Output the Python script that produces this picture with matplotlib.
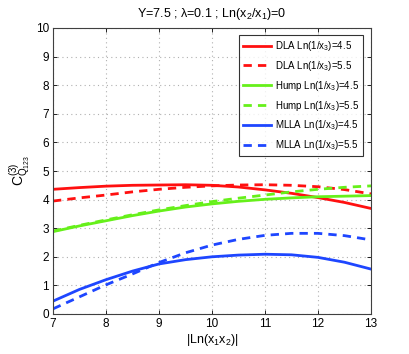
import numpy as np
import matplotlib
matplotlib.use("Agg")
import matplotlib.pyplot as plt

# ------------------------------------------------------
# DADOS
# ------------------------------------------------------
x_ln = [7.0, 7.5, 8.0, 8.5, 9.0, 9.5, 10.0, 10.5, 11.0, 11.5, 12.0, 12.5, 13.0]

dla_45 = [4.36, 4.42, 4.47, 4.50, 4.51, 4.52, 4.50, 4.44, 4.34, 4.22, 4.07, 3.90, 3.69]
dla_55 = [3.95, 4.06, 4.16, 4.27, 4.36, 4.43, 4.48, 4.51, 4.52, 4.50, 4.45, 4.35, 4.20]
hump_45 = [2.88, 3.08, 3.26, 3.44, 3.60, 3.74, 3.85, 3.94, 4.01, 4.06, 4.10, 4.12, 4.14]
hump_55 = [2.90, 3.10, 3.29, 3.47, 3.64, 3.79, 3.93, 4.05, 4.16, 4.27, 4.36, 4.43, 4.48]
mlla_45 = [0.45, 0.86, 1.20, 1.50, 1.75, 1.90, 2.00, 2.06, 2.09, 2.07, 1.98, 1.81, 1.57]
mlla_55 = [0.18, 0.60, 1.02, 1.40, 1.80, 2.14, 2.41, 2.61, 2.75, 2.82, 2.82, 2.74, 2.59]

labels = [
    "DLA Ln(1/x$_3$)=4.5", "DLA Ln(1/x$_3$)=5.5",
    "Hump Ln(1/x$_3$)=4.5", "Hump Ln(1/x$_3$)=5.5",
    "MLLA Ln(1/x$_3$)=4.5", "MLLA Ln(1/x$_3$)=5.5",
]

# ------------------------------------------------------
# ESTILO
# ------------------------------------------------------
plt.rcParams["font.family"] = ["Liberation Sans", "DejaVu Sans"]
plt.rcParams["mathtext.fontset"] = "custom"
plt.rcParams["mathtext.rm"] = "Liberation Sans"
plt.rcParams["mathtext.it"] = "Liberation Sans"
plt.rcParams["mathtext.default"] = "rm"
plt.rcParams["font.size"] = 8.5

RED = "#ff1010"
GREEN = "#66f01a"
BLUE = "#1e46ff"
LW = 2.0

fig = plt.figure(figsize=(4.09, 3.54), dpi=100)
ax = fig.add_axes([53 / 409, 1 - 314 / 354, 318 / 409, 286 / 354])

series = [
    (dla_45, RED, "-"), (dla_55, RED, "--"),
    (hump_45, GREEN, "-"), (hump_55, GREEN, "--"),
    (mlla_45, BLUE, "-"), (mlla_55, BLUE, "--"),
]
for (vals, col, ls), lab in zip(series, labels):
    ax.plot(x_ln, vals, color=col, ls=ls, lw=LW, label=lab,
            dashes=(3, 2.2) if ls == "--" else (None, None))

ax.set_xlim(7, 13)
ax.set_ylim(0, 10)
ax.set_xticks(np.arange(7, 14))
ax.set_yticks(np.arange(0, 11))
ax.grid(True, color="#b0b0b0", ls=(0, (1, 3)), lw=0.8)
ax.tick_params(direction="in", top=True, right=True, length=3, width=0.6,
               colors="black", labelsize=8.5, pad=3)
for s in ax.spines.values():
    s.set_linewidth(0.8)
    s.set_color("#404040")

ax.set_xlabel("|Ln(x$_1$x$_2$)|", fontsize=9, labelpad=1)
ax.set_ylabel("C$^{(3)}_{Q_{123}}$", fontsize=10, labelpad=2)
ax.set_title("Y=7.5 ; λ=0.1 ; Ln(x$_2$/x$_1$)=0", fontsize=9, pad=8)

leg = ax.legend(loc="upper right", bbox_to_anchor=(0.975, 0.975), fontsize=7,
                frameon=True, fancybox=False, edgecolor="black",
                handlelength=2.9, handletextpad=0.4, labelspacing=0.6,
                borderpad=0.4, borderaxespad=0.0)
leg.get_frame().set_linewidth(0.8)

fig.savefig("out.png", dpi=100)
